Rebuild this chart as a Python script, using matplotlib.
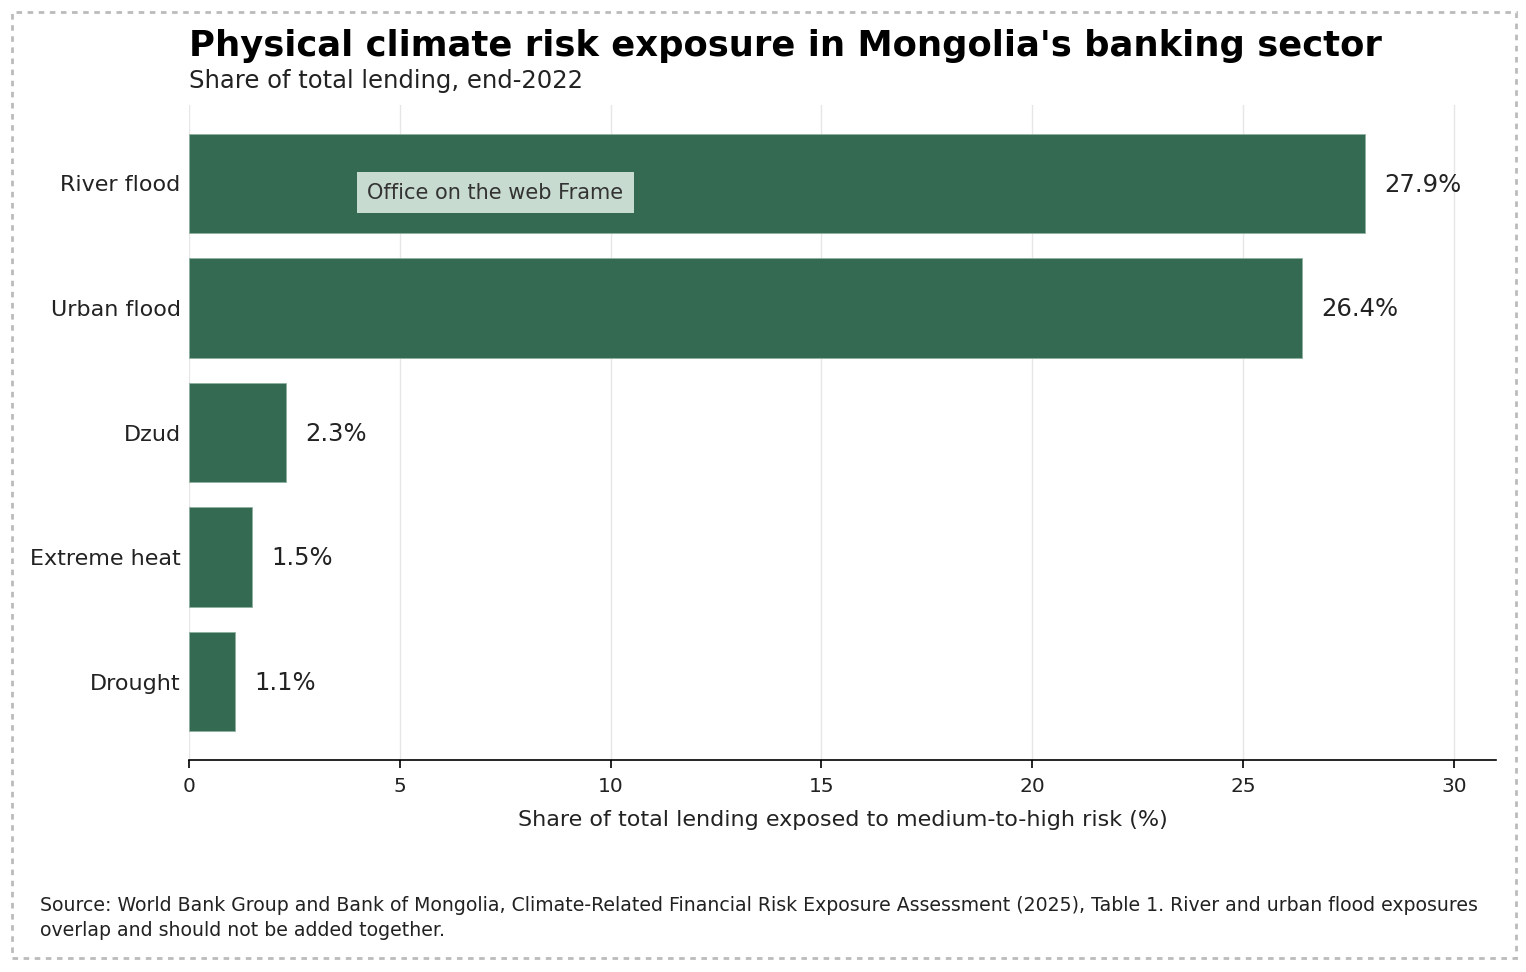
import matplotlib
matplotlib.use("Agg")
import matplotlib.pyplot as plt
from matplotlib.patches import Rectangle

categories = ["River flood", "Urban flood", "Dzud", "Extreme heat", "Drought"]
values = [27.9, 26.4, 2.3, 1.5, 1.1]
xticks = [0, 5, 10, 15, 20, 25, 30]

title = "Physical climate risk exposure in Mongolia's banking sector"
subtitle = "Share of total lending, end-2022"
xlabel = "Share of total lending exposed to medium-to-high risk (%)"
source = ("Source: World Bank Group and Bank of Mongolia, Climate-Related Financial Risk Exposure "
          "Assessment (2025), Table 1. River and urban flood exposures\noverlap and should not be added together.")

plt.rcParams['font.family'] = ['DejaVu Sans']
W, H = 1526, 972
fig = plt.figure(figsize=(W / 100, H / 100), dpi=100)
ax = fig.add_axes([189 / W, 1 - 760 / H, (1496 - 189) / W, (760 - 105) / H])

bar_color = "#356a52"
ypos = list(range(len(categories)))
ax.barh(ypos, values, height=0.8, color=bar_color, edgecolor="#8fb0a0", linewidth=0.6, zorder=3)
for y, v in zip(ypos, values):
    ax.text(v + 0.45, y + 0.01, f"{v}%", va="center", ha="left", fontsize=17.5, color="#222222")

ax.set_xlim(0, 31)
ax.set_ylim(len(categories) - 1 + 0.63, -0.63)
ax.set_yticks(ypos)
ax.set_yticklabels(categories, fontsize=16, color="#222222")
ax.set_xticks(xticks)
ax.set_xticklabels([str(t) for t in xticks], fontsize=14.5, color="#222222")
ax.tick_params(axis="y", length=0, pad=6)
ax.tick_params(axis="x", length=6, width=1.2, pad=6)
ax.grid(axis="x", color="#e6e6e6", linewidth=1, zorder=0)
for s in ["top", "right", "left"]:
    ax.spines[s].set_visible(False)
ax.spines["bottom"].set_linewidth(1.2)
ax.set_xlabel(xlabel, fontsize=16, color="#222222", labelpad=10)

fig.text(189 / W, 1 - 46 / H, title, fontsize=25.5, fontweight="bold", va="center", ha="left")
fig.text(189 / W, 1 - 81 / H, subtitle, fontsize=17.5, va="center", ha="left", color="#222222")
fig.text(40 / W, 1 - 918 / H, source, fontsize=13.6, va="center", ha="left", color="#222222", linespacing=1.35)

ax.text(7.26, 0.076, "Office on the web Frame", fontsize=15, ha="center", va="center", color="#333333",
        bbox=dict(boxstyle="square,pad=0.5", facecolor="#c8dbd0", edgecolor="none"), zorder=5)

fig.patches.append(Rectangle((12 / W, 1 - 958 / H), (1516 - 12) / W, (958 - 12) / H,
                             transform=fig.transFigure, fill=False, edgecolor="#bbbbbb",
                             linestyle=(0, (2, 2)), linewidth=2))

fig.savefig("out.png", dpi=100)
